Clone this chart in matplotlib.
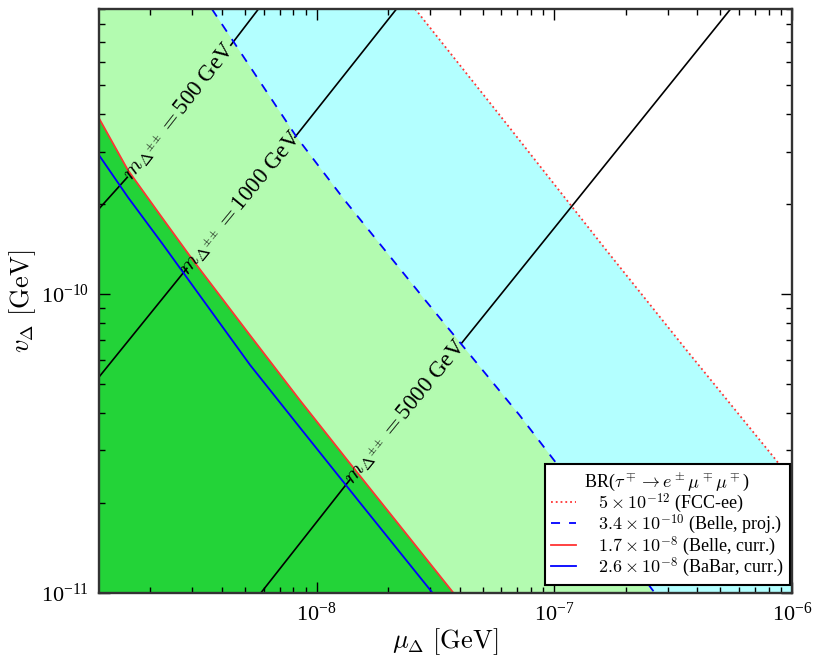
import numpy as np
import matplotlib
matplotlib.use("Agg")
from matplotlib import pyplot as plt
from matplotlib.ticker import FuncFormatter, NullFormatter, LogLocator

plt.rcParams['font.family'] = ['Liberation Serif', 'DejaVu Serif']
plt.rcParams['mathtext.fontset'] = 'cm'

# BR limit curves, v_Delta vs mu_Delta (GeV)
red_mu = [1.216e-9, 1.61e-9, 2.20e-9, 3.02e-9, 5.25e-9, 8.51e-9, 1.38e-8, 2.24e-8, 3.77e-8]
red_v = [3.88e-10, 2.60e-10, 1.84e-10, 1.30e-10, 7.29e-11, 4.42e-11, 2.72e-11, 1.68e-11, 1.0e-11]

blue_mu = [1.216e-9, 1.61e-9, 2.24e-9, 3.17e-9, 5.25e-9, 8.51e-9, 1.52e-8, 3.08e-8]
blue_v = [2.92e-10, 2.11e-10, 1.48e-10, 1.01e-10, 5.80e-11, 3.58e-11, 2.01e-11, 1.0e-11]

dashed_mu = [3.63e-9, 8.26e-9, 1.315e-8, 2.80e-8, 7.14e-8, 1.02e-7, 2.65e-7]
dashed_v = [9.0e-10, 3.35e-10, 2.06e-10, 9.77e-11, 3.94e-11, 2.72e-11, 1.0e-11]

dotted_mu = [2.6e-8, 5.9e-8, 1.66e-7, 3.6e-7, 8.59e-7, 1.0e-6]
dotted_v = [9.0e-10, 3.97e-10, 1.40e-10, 6.50e-11, 2.78e-11, 2.35e-11]

# constant m_Delta lines: start, label gap start, label gap end, end
m_values = [500, 1000, 5000]
m500_mu = [1.216e-9, 1.60e-9, 4.36e-9, 5.7e-9]
m500_v = [1.93e-10, 2.46e-10, 6.81e-10, 9.0e-10]
m1000_mu = [1.216e-9, 2.85e-9, 8.11e-9, 2.17e-8]
m1000_v = [5.28e-11, 1.22e-10, 3.35e-10, 9.0e-10]
m5000_mu = [5.83e-9, 1.38e-8, 4.08e-8, 5.52e-7]
m5000_v = [1.0e-11, 2.39e-11, 6.86e-11, 9.0e-10]

labels = [r'$5\times10^{-12}$ (FCC-ee)',
          r'$3.4\times10^{-10}$ (Belle, proj.)',
          r'$1.7\times10^{-8}$ (Belle, curr.)',
          r'$2.6\times10^{-8}$ (BaBar, curr.)']

xmin, xmax = 1.216e-9, 1e-6
ymin, ymax = 1e-11, 9e-10

fig = plt.figure(figsize=(8.31, 6.66), dpi=100)
ax = fig.add_axes([0.1191, 0.1096, 0.8339, 0.8769])
ax.set_xscale('log')
ax.set_yscale('log')
ax.set_xlim(xmin, xmax)
ax.set_ylim(ymin, ymax)

# filled regions
ax.fill(dotted_mu + [xmax, xmin, xmin], dotted_v + [ymin, ymin, ymax],
        color='#b3ffff', lw=0, zorder=1)
ax.fill(dashed_mu + [xmin, xmin], dashed_v + [ymin, ymax],
        color='#b3fbb0', lw=0, zorder=1)
ax.fill(red_mu + [xmin], red_v + [ymin], color='#23d338', lw=0, zorder=1)

# mass lines with inline labels
for m, mu, v in zip(m_values, [m500_mu, m1000_mu, m5000_mu], [m500_v, m1000_v, m5000_v]):
    ax.plot(mu[:2], v[:2], color='black', lw=1.2, zorder=3)
    ax.plot(mu[2:], v[2:], color='black', lw=1.2, zorder=3)
    p1 = ax.transData.transform((mu[1], v[1]))
    p2 = ax.transData.transform((mu[2], v[2]))
    ang = np.degrees(np.arctan2(p2[1] - p1[1], p2[0] - p1[0]))
    xc = np.sqrt(mu[1] * mu[2])
    yc = np.sqrt(v[1] * v[2])
    ax.text(xc, yc, r'$m_{\Delta^{\pm\pm}}=$' + '%d GeV' % m, rotation=ang,
            rotation_mode='anchor', ha='center', va='center', fontsize=16.5, zorder=4)

l1, = ax.plot(dotted_mu, dotted_v, color='#ff3333', ls=':', lw=1.3, zorder=3)
l2, = ax.plot(dashed_mu, dashed_v, color='blue', ls='--', lw=1.3, dashes=(5, 5), zorder=3)
l3, = ax.plot(red_mu, red_v, color='#ff3333', lw=1.3, zorder=3)
l4, = ax.plot(blue_mu, blue_v, color='blue', lw=1.3, zorder=3)

leg = ax.legend([l1, l2, l3, l4], labels, loc='lower right', fontsize=13,
                bbox_to_anchor=(0.997, 0.013), borderaxespad=0,
                title=r'BR($\tau^\mp\to e^\pm\mu^\mp\mu^\mp$)', title_fontsize=13,
                fancybox=False, edgecolor='black', framealpha=1,
                handlelength=1.4, handletextpad=1.2, labelspacing=-0.12,
                borderpad=0.35)
leg.get_frame().set_linewidth(1.5)
leg.set_zorder(10)

fmt = FuncFormatter(lambda val, pos: r'$\mathregular{10^{%d}}$' % int(round(np.log10(val))))
ax.xaxis.set_major_formatter(fmt)
ax.yaxis.set_major_formatter(fmt)
ax.xaxis.set_minor_formatter(NullFormatter())
ax.yaxis.set_minor_formatter(NullFormatter())
ax.xaxis.set_minor_locator(LogLocator(subs=np.arange(2, 10)))
ax.yaxis.set_minor_locator(LogLocator(subs=np.arange(2, 10)))
ax.tick_params(which='both', direction='in', top=True, right=True, labelsize=16, pad=7)
ax.tick_params(which='major', length=8, width=1)
ax.tick_params(which='minor', length=4, width=1)
for s in ax.spines.values():
    s.set_linewidth(1.7)
    s.set_color('#333333')
    s.set_zorder(12)

ax.set_xlabel(r'$\mu_\Delta\ [\mathrm{GeV}]$', fontsize=19, labelpad=0)
ax.set_ylabel(r'$v_\Delta\ [\mathrm{GeV}]$', fontsize=19, labelpad=2)

fig.savefig('out.png', dpi=100)
